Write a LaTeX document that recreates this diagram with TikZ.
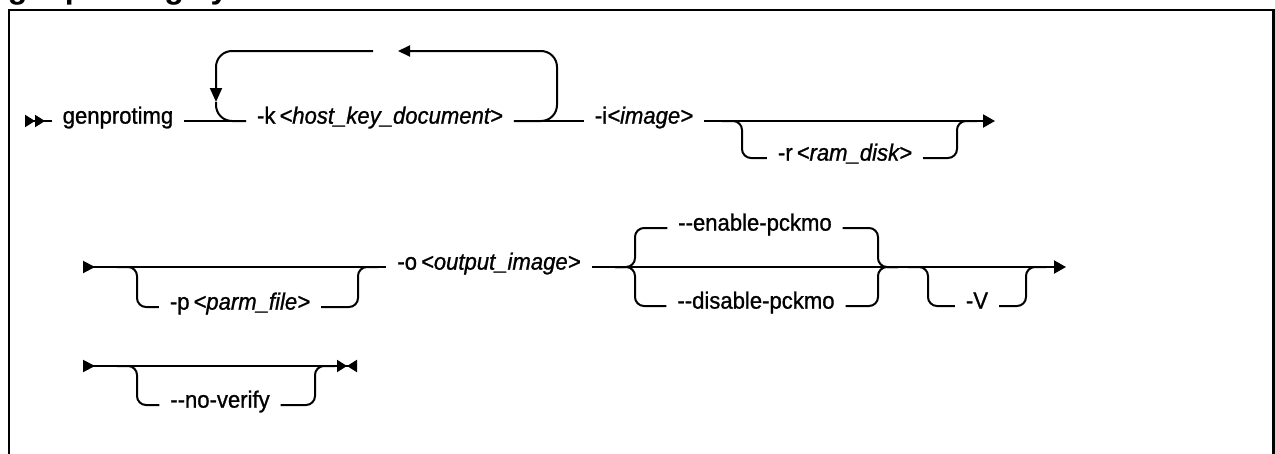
\documentclass[tikz,border=0pt]{standalone}
\usepackage{fontspec}
\setmainfont{Liberation Sans}
\newfontfamily\railfont{Liberation Sans}[FakeBold=1.0,FakeStretch=0.94]
\usetikzlibrary{arrows.meta}
\tikzset{
  opt/.style={inner xsep=10pt, inner ysep=2pt, anchor=mid, font=\railfont\fontsize{23.5}{28}\selectfont},
  endtip/.style={-{Triangle[length=12pt,width=13pt]}}
}
\begin{document}
\begin{tikzpicture}[x=1pt,y=-1pt,line width=2pt]
      \useasboundingbox (0,0) rectangle (1275,453);
      % frame and title
      \node[anchor=base west, inner sep=0pt, font=\bfseries\fontsize{32}{36}\selectfont] (title) at (7,-2) {genprotimg syntax};
      \draw[line width=2.5pt] (9,470) |- (1273.5,10) -- (1273.5,470);
      % labels
      \node[opt] (cmd) at (118,121) {genprotimg};
      \node[opt] (kopt) at (380,121) {-k\,\textit{<host\_key\_document>}};
      \node[opt] (iopt) at (644,121) {-i\textit{<image>}};
      \node[opt] (ropt) at (845,158) {-r\,\textit{<ram\_disk>}};
      \node[opt] (popt) at (240,307) {-p\,\textit{<parm\_file>}};
      \node[opt] (oopt) at (489,267) {-o\,\textit{<output\_image>}};
      \node[opt] (enab) at (755,228) {-{}-enable-pckmo};
      \node[opt] (disab) at (756,306) {-{}-disable-pckmo};
      \node[opt] (Vopt) at (977,306) {-V};
      \node[opt] (nvopt) at (220,405) {-{}-no-verify};
      % junctions
      \coordinate (s1) at (25,121);
      \coordinate (lpG) at (373,51);
      \coordinate (lpA) at (398,51);
      \coordinate (lpTR) at (557,51);
      \coordinate (lpD) at (216,102);
      \coordinate (rL) at (742,121);
      \coordinate (rR) at (957,121);
      \coordinate (e1) at (995,121);
      \coordinate (s2) at (83,267);
      \coordinate (pL) at (137,267);
      \coordinate (pR) at (358,267);
      \coordinate (cL) at (635,267);
      \coordinate (cR) at (878,267);
      \coordinate (vL) at (928,267);
      \coordinate (vR) at (1026,267);
      \coordinate (e2) at (1066,267);
      \coordinate (s3) at (83,366);
      \coordinate (nL) at (137,366);
      \coordinate (nR) at (315,366);
      \coordinate (e3) at (357,366);
      % first line
      \draw[-{Triangle[length=10pt,width=12pt]Triangle[length=10pt,width=12pt]}] (s1) -- ++(20,0);
      \draw (s1) -- (cmd.mid west);
      \draw (cmd.mid east) -- (kopt.mid west);
      \draw (kopt.mid east) -- (iopt.mid west);
      \draw[rounded corners=16, -{Triangle[length=12pt,width=11pt]}] (kopt.mid east) -| (lpTR) -- (lpA);
      \draw[rounded corners=16, -{Triangle[length=14pt,width=12pt]}] (lpG) -| (lpD);
      \draw[rounded corners=16] (lpD) |- (kopt.mid west);
      \draw[endtip] (iopt.mid east) -- (e1);
      \draw[rounded corners=9] (ropt.mid west) -| (rL) -- ++(-20,0);
      \draw[rounded corners=9] (ropt.mid east) -| (rR) -- ++(20,0);
      % second line
      \draw[-{Triangle[length=12pt,width=12pt]}] (s2) -- ++(12,0);
      \draw (s2) -- (oopt.mid west);
      \draw[rounded corners=9] (popt.mid west) -| (pL) -- ++(-20,0);
      \draw[rounded corners=9] (popt.mid east) -| (pR) -- ++(20,0);
      \draw[endtip] (oopt.mid east) -- (e2);
      \draw[rounded corners=9] (enab.mid west) -| (cL) -- ++(-20,0);
      \draw[rounded corners=9] (disab.mid west) -| (cL) -- ++(-20,0);
      \draw[rounded corners=9] (enab.mid east) -| (cR) -- ++(20,0);
      \draw[rounded corners=9] (disab.mid east) -| (cR) -- ++(20,0);
      \draw[rounded corners=9] (Vopt.mid west) -| (vL) -- ++(-20,0);
      \draw[rounded corners=9] (Vopt.mid east) -| (vR) -- ++(20,0);
      % third line
      \draw[-{Triangle[length=12pt,width=12pt]}] (s3) -- ++(12,0);
      \draw[-{Triangle[length=10pt,width=12pt]Triangle[length=10pt,width=12pt,reversed]}] (s3) -- (e3);
      \draw[rounded corners=9] (nvopt.mid west) -| (nL) -- ++(-20,0);
      \draw[rounded corners=9] (nvopt.mid east) -| (nR) -- ++(20,0);
    \end{tikzpicture}
\end{document}
